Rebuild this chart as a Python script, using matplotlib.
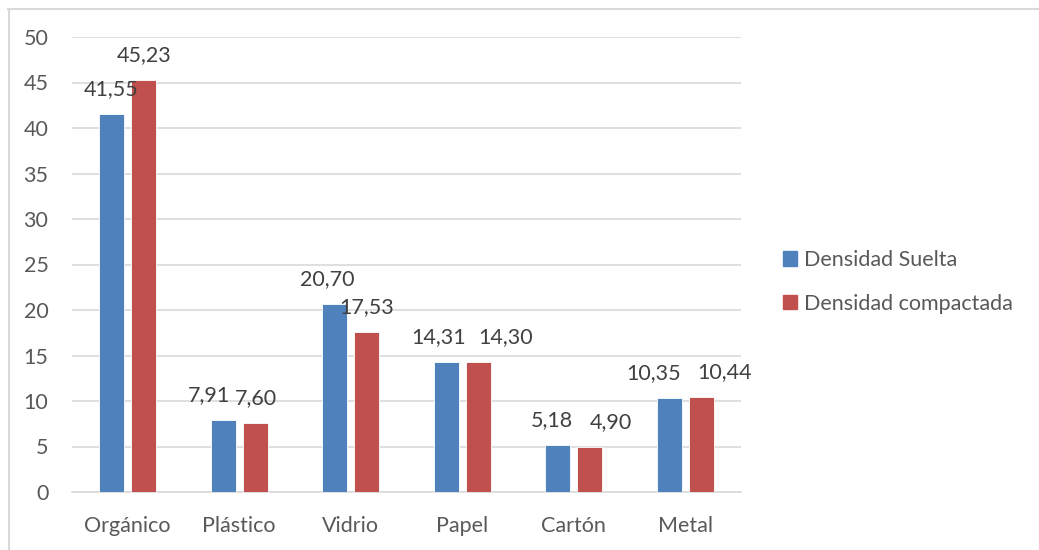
import matplotlib
matplotlib.use('Agg')
import matplotlib.pyplot as plt
import numpy as np
from matplotlib.lines import Line2D
from matplotlib.patches import Patch

categories = ['Orgánico', 'Plástico', 'Vidrio', 'Papel', 'Cartón', 'Metal']
suelta = [41.55, 7.91, 20.70, 14.31, 5.18, 10.35]
compactada = [45.23, 7.60, 17.53, 14.30, 4.90, 10.44]
series_names = ['Densidad Suelta', 'Densidad compactada']

# horizontal nudges of the data labels (pixels), as Excel placed them
nudge_suelta = [-1, -14, -8, -8, -6, -16]
nudge_compactada = [0, 1, 0, 27, 21, 23]

BLUE = '#4F81BD'
RED = '#C0504D'
TEXT = '#595959'
GRID = '#D9D9D9'

plt.rcParams['font.family'] = ['Lato', 'DejaVu Sans']
plt.rcParams['font.size'] = 15.5

fig = plt.figure(figsize=(10.39, 5.5), dpi=100)
ax = fig.add_axes([72 / 1039, 58 / 550, 669 / 1039, 455 / 550])

x = np.arange(len(categories))
w = 0.225
off = 0.143
b1 = ax.bar(x - off, suelta, w, color=BLUE, edgecolor='white', linewidth=0.6, zorder=3)
b2 = ax.bar(x + off, compactada, w, color=RED, edgecolor='white', linewidth=0.6, zorder=3)

def fmt(v):
    return f'{v:.2f}'.replace('.', ',')

px = 72 / 100
for bars, vals, nudges in ((b1, suelta, nudge_suelta), (b2, compactada, nudge_compactada)):
    for rect, v, dx in zip(bars, vals, nudges):
        ax.annotate(fmt(v), (rect.get_x() + rect.get_width() / 2, v),
                    xytext=(dx * px, 25 * px), textcoords='offset points',
                    ha='center', va='center', color='#404040', fontsize=15.5, zorder=4)

ax.set_xlim(-0.5, len(categories) - 0.5)
ax.set_ylim(0, 50)
ax.set_yticks(np.arange(0, 51, 5))
ax.set_xticks(x)
ax.set_xticklabels(categories)
ax.tick_params(axis='both', length=0, colors=TEXT, labelsize=15.5)
ax.tick_params(axis='y', pad=17)
ax.tick_params(axis='x', pad=17)
ax.yaxis.grid(True, color=GRID, linewidth=1.2, zorder=0)
for s in ('top', 'right', 'left'):
    ax.spines[s].set_visible(False)
ax.spines['bottom'].set_color(GRID)
ax.spines['bottom'].set_linewidth(1.2)

handles = [Patch(color=BLUE), Patch(color=RED)]
fig.legend(handles, series_names, loc='center left', bbox_to_anchor=(764 / 1039, (550 - 282) / 550),
           frameon=False, fontsize=15.5, labelcolor=TEXT, handlelength=0.65, handleheight=0.65,
           handletextpad=0.3, labelspacing=1.1)

# outer chart frame (only top and left edges visible in the crop)
fig.add_artist(Line2D([8 / 1039, 1], [1 - 8.5 / 550, 1 - 8.5 / 550], color=GRID, linewidth=1.5))
fig.add_artist(Line2D([8.5 / 1039, 8.5 / 1039], [0, 1 - 8.5 / 550], color=GRID, linewidth=1.5))

fig.savefig('out.png', dpi=100, facecolor='white')
